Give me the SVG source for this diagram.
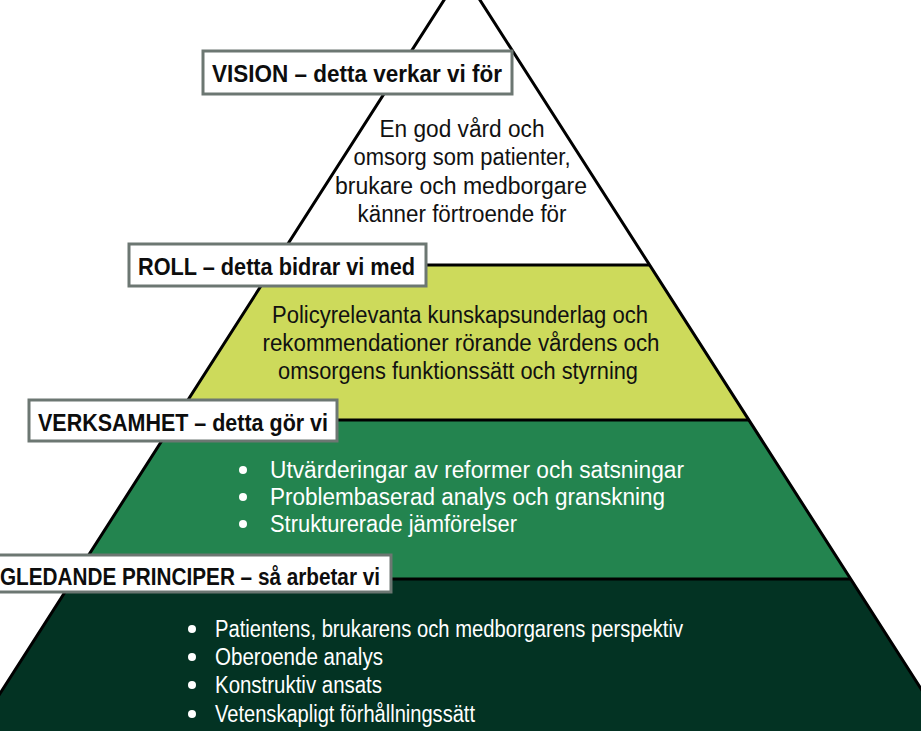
<svg xmlns="http://www.w3.org/2000/svg" width="921" height="731" viewBox="0 0 921 731">
<style>
.edge{stroke:#000;stroke-width:3;fill:none;stroke-linecap:butt}
.lbox{fill:#fff;stroke:#6c7772;stroke-width:3}
.lbl{font-family:"Liberation Sans",Arial,sans-serif;font-weight:bold;font-size:23px;fill:#0d0d0d}
.dk{font-family:"Liberation Sans",Arial,sans-serif;font-size:23.5px;fill:#111}
.wt{font-family:"Liberation Sans",Arial,sans-serif;font-size:23.5px;fill:#fff}
.c{text-anchor:middle}
</style>
<rect width="921" height="731" fill="#fff"/>
<g id="vision-band">
<polygon points="462,-28 274,265 650,265" fill="#fff"/>
<text class="dk c" x="462" y="137" textLength="165" lengthAdjust="spacingAndGlyphs">En god vård och</text>
<text class="dk c" x="462" y="165" textLength="217" lengthAdjust="spacingAndGlyphs">omsorg som patienter,</text>
<text class="dk c" x="461" y="194" textLength="252" lengthAdjust="spacingAndGlyphs">brukare och medborgare</text>
<text class="dk c" x="462" y="222" textLength="209" lengthAdjust="spacingAndGlyphs">känner förtroende för</text>
</g>
<g id="roll-band">
<polygon points="274,265 650,265 749,420 175,420" fill="#cdda5b"/>
<text class="dk c" x="460" y="323" textLength="376" lengthAdjust="spacingAndGlyphs">Policyrelevanta kunskapsunderlag och</text>
<text class="dk c" x="461" y="351" textLength="397" lengthAdjust="spacingAndGlyphs">rekommendationer rörande vårdens och</text>
<text class="dk c" x="458" y="379" textLength="360" lengthAdjust="spacingAndGlyphs">omsorgens funktionssätt och styrning</text>
</g>
<g id="verksamhet-band">
<polygon points="175,420 749,420 850,579 73,579" fill="#23844f"/>
<circle cx="243" cy="470" r="4" fill="#fff"/>
<circle cx="243" cy="497" r="4" fill="#fff"/>
<circle cx="243" cy="524" r="4" fill="#fff"/>
<text class="wt" x="270" y="478" textLength="414" lengthAdjust="spacingAndGlyphs">Utvärderingar av reformer och satsningar</text>
<text class="wt" x="270" y="505" textLength="395" lengthAdjust="spacingAndGlyphs">Problembaserad analys och granskning</text>
<text class="wt" x="270" y="532" textLength="247" lengthAdjust="spacingAndGlyphs">Strukturerade jämförelser</text>
</g>
<g id="principer-band">
<polygon points="73,579 850,579 948,731 -24,731" fill="#033323"/>
<circle cx="192" cy="629" r="4" fill="#fff"/>
<circle cx="192" cy="657" r="4" fill="#fff"/>
<circle cx="192" cy="685" r="4" fill="#fff"/>
<circle cx="192" cy="714" r="4" fill="#fff"/>
<text class="wt" x="215" y="637" textLength="468" lengthAdjust="spacingAndGlyphs">Patientens, brukarens och medborgarens perspektiv</text>
<text class="wt" x="215" y="665" textLength="168" lengthAdjust="spacingAndGlyphs">Oberoende analys</text>
<text class="wt" x="215" y="693" textLength="167" lengthAdjust="spacingAndGlyphs">Konstruktiv ansats</text>
<text class="wt" x="215" y="722" textLength="260" lengthAdjust="spacingAndGlyphs">Vetenskapligt förhållningssätt</text>
</g>
<g id="outline">
<path class="edge" d="M462,-28 L-24,731 M462,-28 L948,731"/>
<path class="edge" d="M274,265 H650 M175,420 H749 M73,579 H850"/>
</g>
<g id="label-vision">
<rect class="lbox" x="203" y="51" width="309" height="43"/>
<text class="lbl" x="212" y="82" textLength="290" lengthAdjust="spacingAndGlyphs">VISION – detta verkar vi för</text>
</g>
<g id="label-roll">
<rect class="lbox" x="129" y="244" width="297" height="42"/>
<text class="lbl" x="138" y="275" textLength="277" lengthAdjust="spacingAndGlyphs">ROLL – detta bidrar vi med</text>
</g>
<g id="label-verksamhet">
<rect class="lbox" x="29" y="400" width="308" height="41"/>
<text class="lbl" x="38" y="431" textLength="290" lengthAdjust="spacingAndGlyphs">VERKSAMHET – detta gör vi</text>
</g>
<g id="label-principer">
<rect class="lbox" x="-4" y="555" width="395" height="37"/>
<text class="lbl" x="0" y="585" textLength="380" lengthAdjust="spacingAndGlyphs">GLEDANDE PRINCIPER – så arbetar vi</text>
</g>
</svg>
